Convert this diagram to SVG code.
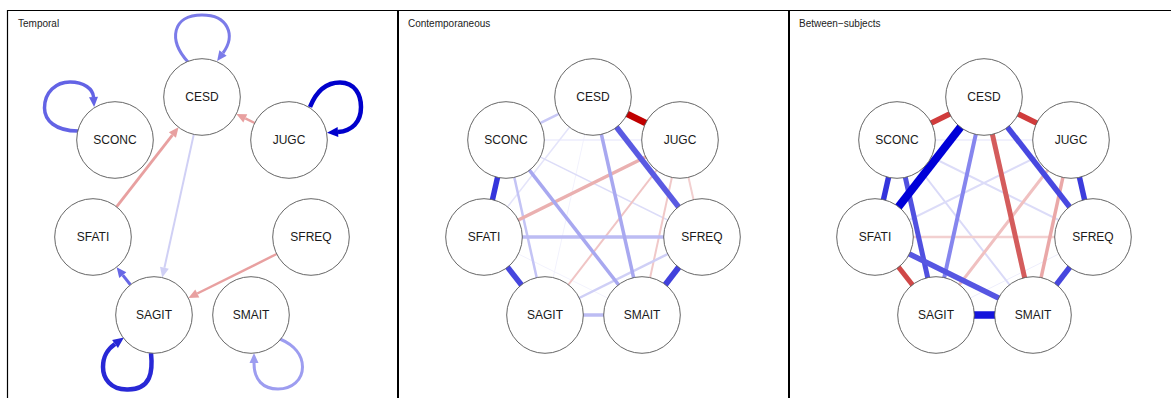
<svg xmlns="http://www.w3.org/2000/svg" width="1171" height="398" viewBox="0 0 1171 398">
<style>
.title{font-family:"Liberation Sans",Arial,sans-serif;font-size:10px;fill:#222}
.lbl{font-family:"Liberation Sans",Arial,sans-serif;font-size:12px;fill:#1a1a1a;text-anchor:middle}
.nd{fill:#fff;stroke:#555;stroke-width:0.9}
.frame{stroke:#000;fill:none}
line,path.e{fill:none;stroke-linecap:butt}
</style>
<defs>
<marker id="m-pink" markerUnits="userSpaceOnUse" markerWidth="10" markerHeight="9" refX="0" refY="4.5" orient="auto" overflow="visible"><path d="M0,0 L10,4.5 L0,9 z" fill="#e8a0a0"/></marker>
<marker id="m-lb" markerUnits="userSpaceOnUse" markerWidth="10" markerHeight="9" refX="0" refY="4.5" orient="auto" overflow="visible"><path d="M0,0 L10,4.5 L0,9 z" fill="#d0d0f5"/></marker>
<marker id="m-b1" markerUnits="userSpaceOnUse" markerWidth="10" markerHeight="9" refX="0" refY="4.5" orient="auto" overflow="visible"><path d="M0,0 L10,4.5 L0,9 z" fill="#6868e6"/></marker>
<marker id="m-cesd" markerUnits="userSpaceOnUse" markerWidth="10" markerHeight="9" refX="0" refY="4.5" orient="auto" overflow="visible"><path d="M0,0 L10,4.5 L0,9 z" fill="#7b7be9"/></marker>
<marker id="m-sconc" markerUnits="userSpaceOnUse" markerWidth="10" markerHeight="9" refX="0" refY="4.5" orient="auto" overflow="visible"><path d="M0,0 L10,4.5 L0,9 z" fill="#6363e5"/></marker>
<marker id="m-jugc" markerUnits="userSpaceOnUse" markerWidth="11" markerHeight="10" refX="0" refY="5" orient="auto" overflow="visible"><path d="M0,0 L11,5 L0,10 z" fill="#0000cc"/></marker>
<marker id="m-sagit" markerUnits="userSpaceOnUse" markerWidth="11" markerHeight="10" refX="0" refY="5" orient="auto" overflow="visible"><path d="M0,0 L11,5 L0,10 z" fill="#2828d6"/></marker>
<marker id="m-smait" markerUnits="userSpaceOnUse" markerWidth="10" markerHeight="9" refX="0" refY="4.5" orient="auto" overflow="visible"><path d="M0,0 L10,4.5 L0,9 z" fill="#9d9df0"/></marker>
</defs>
<rect width="1171" height="398" fill="#fff"/>
<g id="frames">
<line class="frame" x1="7" y1="10.5" x2="1171" y2="10.5" stroke-width="1.2"/>
<line class="frame" x1="7.5" y1="10" x2="7.5" y2="398" stroke-width="1.2"/>
<line class="frame" x1="398" y1="10" x2="398" y2="398" stroke-width="2"/>
<line class="frame" x1="789" y1="10" x2="789" y2="398" stroke-width="2"/>
</g>
<g id="titles">
<text class="title" x="18" y="27">Temporal</text>
<text class="title" x="408" y="27">Contemporaneous</text>
<text class="title" x="799" y="27">Between−subjects</text>
</g>
<g id="connectors">
<g id="temporal-edges">
<path class="e" d="M188,62 C168,40 172,15 202,15 C228,15 236,35 223,53" stroke="#7b7be9" stroke-width="3" marker-end="url(#m-cesd)"/>
<path class="e" d="M78,131 C55,131 44.5,120 44.5,108 C44.5,92 56,82 70,82 C84,82 93,89 93.5,97" stroke="#6363e5" stroke-width="3.5" marker-end="url(#m-sconc)"/>
<path class="e" d="M310,107 C316,92 326,82.5 340,82.5 C355,82.5 361,95 361,107 C361,122 352,131 338,132" stroke="#0000cc" stroke-width="4.5" marker-end="url(#m-jugc)"/>
<path class="e" d="M151,353 C153,372 151,389 128,389.5 C110,390 103,378 103,367 C103,355 108,349 115,344" stroke="#2828d6" stroke-width="4.5" marker-end="url(#m-sagit)"/>
<path class="e" d="M280,339 C294,345 302.5,355 302.5,367 C302.5,380 292,389 278,389 C263,389 254,380 254,363" stroke="#9d9df0" stroke-width="3" marker-end="url(#m-smait)"/>
<line x1="254.7" y1="123" x2="245.3" y2="118.4" stroke="#e8a0a0" stroke-width="2.5" marker-end="url(#m-pink)"/>
<line x1="116.5" y1="206.8" x2="172.4" y2="135.1" stroke="#e8a0a0" stroke-width="2.8" marker-end="url(#m-pink)"/>
<line x1="193.8" y1="134.4" x2="164.4" y2="267.8" stroke="#d0d0f5" stroke-width="2" marker-end="url(#m-lb)"/>
<line x1="130.4" y1="284.8" x2="122.8" y2="275.1" stroke="#6868e6" stroke-width="3" marker-end="url(#m-b1)"/>
<line x1="276.7" y1="254" x2="197.3" y2="293.5" stroke="#e8a0a0" stroke-width="2.5" marker-end="url(#m-pink)"/>
</g>
<g id="contemporaneous-edges">
<line x1="593" y1="97" x2="545" y2="315" stroke="#f2f2fd" stroke-width="1"/>
<line x1="484" y1="237" x2="642" y2="315" stroke="#f2f2fd" stroke-width="1"/>
<line x1="506" y1="140" x2="680" y2="140" stroke="#ececfc" stroke-width="1.5"/>
<line x1="593" y1="97" x2="484" y2="237" stroke="#e4e4fa" stroke-width="1.5"/>
<line x1="506" y1="140" x2="702" y2="237" stroke="#dcdcf8" stroke-width="1.5"/>
<line x1="680" y1="140" x2="702" y2="237" stroke="#f2d0d0" stroke-width="2"/>
<line x1="680" y1="140" x2="642" y2="315" stroke="#f0c8c8" stroke-width="2"/>
<line x1="680" y1="140" x2="545" y2="315" stroke="#f0c4c4" stroke-width="2"/>
<line x1="545" y1="315" x2="702" y2="237" stroke="#cfcff6" stroke-width="2.5"/>
<line x1="593" y1="97" x2="506" y2="140" stroke="#c8c8f5" stroke-width="2.5"/>
<line x1="506" y1="140" x2="545" y2="315" stroke="#c4c4f5" stroke-width="2.5"/>
<line x1="680" y1="140" x2="484" y2="237" stroke="#eab0b0" stroke-width="3.5"/>
<line x1="545" y1="315" x2="642" y2="315" stroke="#bcbcf3" stroke-width="3.5"/>
<line x1="484" y1="237" x2="702" y2="237" stroke="#bcbcf3" stroke-width="3.5"/>
<line x1="506" y1="140" x2="642" y2="315" stroke="#a8a8f0" stroke-width="3.5"/>
<line x1="593" y1="97" x2="642" y2="315" stroke="#a8a8f0" stroke-width="3.5"/>
<line x1="484" y1="237" x2="545" y2="315" stroke="#4747de" stroke-width="5.5"/>
<line x1="506" y1="140" x2="484" y2="237" stroke="#3535dc" stroke-width="5.5"/>
<line x1="593" y1="97" x2="702" y2="237" stroke="#5a5ae2" stroke-width="5.5"/>
<line x1="702" y1="237" x2="642" y2="315" stroke="#4141dc" stroke-width="6"/>
<line x1="593" y1="97" x2="680" y2="140" stroke="#c00000" stroke-width="6.5"/>
</g>
<g id="between-edges">
<line x1="936" y1="315" x2="1093" y2="237" stroke="#eeeefc" stroke-width="1"/>
<line x1="897" y1="140" x2="1071" y2="140" stroke="#ececfc" stroke-width="1.5"/>
<line x1="897" y1="140" x2="1033" y2="315" stroke="#dadaf8" stroke-width="2"/>
<line x1="897" y1="140" x2="1093" y2="237" stroke="#dcdcf8" stroke-width="2"/>
<line x1="1071" y1="140" x2="875" y2="237" stroke="#dcdcf8" stroke-width="2"/>
<line x1="875" y1="237" x2="1093" y2="237" stroke="#f2d0d0" stroke-width="2.5"/>
<line x1="1071" y1="140" x2="936" y2="315" stroke="#f0c0c0" stroke-width="3"/>
<line x1="1071" y1="140" x2="1033" y2="315" stroke="#eaa8a8" stroke-width="3.5"/>
<line x1="984" y1="97" x2="936" y2="315" stroke="#8686ee" stroke-width="4"/>
<line x1="875" y1="237" x2="936" y2="315" stroke="#d04848" stroke-width="5"/>
<line x1="984" y1="97" x2="1033" y2="315" stroke="#d45c5c" stroke-width="5"/>
<line x1="897" y1="140" x2="936" y2="315" stroke="#5050e0" stroke-width="5"/>
<line x1="875" y1="237" x2="1033" y2="315" stroke="#5656e2" stroke-width="5.5"/>
<line x1="1093" y1="237" x2="1033" y2="315" stroke="#4646de" stroke-width="5.5"/>
<line x1="1071" y1="140" x2="1093" y2="237" stroke="#3c3cdc" stroke-width="5.5"/>
<line x1="897" y1="140" x2="875" y2="237" stroke="#3434dc" stroke-width="5.5"/>
<line x1="984" y1="97" x2="1093" y2="237" stroke="#4848e0" stroke-width="5.5"/>
<line x1="984" y1="97" x2="1071" y2="140" stroke="#d03c3c" stroke-width="5.5"/>
<line x1="984" y1="97" x2="897" y2="140" stroke="#d03c3c" stroke-width="5.5"/>
<line x1="936" y1="315" x2="1033" y2="315" stroke="#1414dc" stroke-width="7.5"/>
<line x1="984" y1="97" x2="875" y2="237" stroke="#0000d8" stroke-width="8"/>
</g>
</g>
<g id="t-CESD"><circle class="nd" cx="202" cy="97" r="38.3"/><text class="lbl" x="202" y="101.3">CESD</text></g>
<g id="t-SCONC"><circle class="nd" cx="115" cy="140" r="38.3"/><text class="lbl" x="115" y="144.3">SCONC</text></g>
<g id="t-JUGC"><circle class="nd" cx="289" cy="140" r="38.3"/><text class="lbl" x="289" y="144.3">JUGC</text></g>
<g id="t-SFATI"><circle class="nd" cx="93" cy="237" r="38.3"/><text class="lbl" x="93" y="241.3">SFATI</text></g>
<g id="t-SFREQ"><circle class="nd" cx="311" cy="237" r="38.3"/><text class="lbl" x="311" y="241.3">SFREQ</text></g>
<g id="t-SAGIT"><circle class="nd" cx="154" cy="315" r="38.3"/><text class="lbl" x="154" y="319.3">SAGIT</text></g>
<g id="t-SMAIT"><circle class="nd" cx="251" cy="315" r="38.3"/><text class="lbl" x="251" y="319.3">SMAIT</text></g>
<g id="c-CESD"><circle class="nd" cx="593" cy="97" r="38.3"/><text class="lbl" x="593" y="101.3">CESD</text></g>
<g id="c-SCONC"><circle class="nd" cx="506" cy="140" r="38.3"/><text class="lbl" x="506" y="144.3">SCONC</text></g>
<g id="c-JUGC"><circle class="nd" cx="680" cy="140" r="38.3"/><text class="lbl" x="680" y="144.3">JUGC</text></g>
<g id="c-SFATI"><circle class="nd" cx="484" cy="237" r="38.3"/><text class="lbl" x="484" y="241.3">SFATI</text></g>
<g id="c-SFREQ"><circle class="nd" cx="702" cy="237" r="38.3"/><text class="lbl" x="702" y="241.3">SFREQ</text></g>
<g id="c-SAGIT"><circle class="nd" cx="545" cy="315" r="38.3"/><text class="lbl" x="545" y="319.3">SAGIT</text></g>
<g id="c-SMAIT"><circle class="nd" cx="642" cy="315" r="38.3"/><text class="lbl" x="642" y="319.3">SMAIT</text></g>
<g id="b-CESD"><circle class="nd" cx="984" cy="97" r="38.3"/><text class="lbl" x="984" y="101.3">CESD</text></g>
<g id="b-SCONC"><circle class="nd" cx="897" cy="140" r="38.3"/><text class="lbl" x="897" y="144.3">SCONC</text></g>
<g id="b-JUGC"><circle class="nd" cx="1071" cy="140" r="38.3"/><text class="lbl" x="1071" y="144.3">JUGC</text></g>
<g id="b-SFATI"><circle class="nd" cx="875" cy="237" r="38.3"/><text class="lbl" x="875" y="241.3">SFATI</text></g>
<g id="b-SFREQ"><circle class="nd" cx="1093" cy="237" r="38.3"/><text class="lbl" x="1093" y="241.3">SFREQ</text></g>
<g id="b-SAGIT"><circle class="nd" cx="936" cy="315" r="38.3"/><text class="lbl" x="936" y="319.3">SAGIT</text></g>
<g id="b-SMAIT"><circle class="nd" cx="1033" cy="315" r="38.3"/><text class="lbl" x="1033" y="319.3">SMAIT</text></g>
</svg>
